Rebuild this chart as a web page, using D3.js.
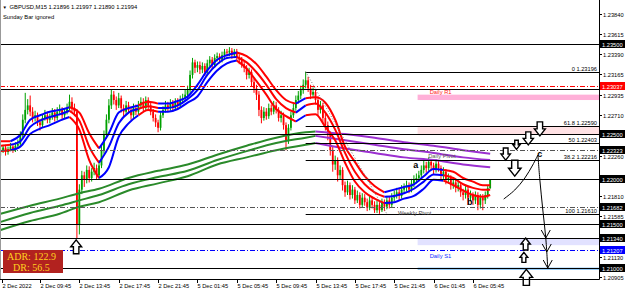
<!DOCTYPE html>
<html><head><meta charset="utf-8">
<script src="https://cdn.jsdelivr.net/npm/d3@7"></script>
<style>body{margin:0;background:#fff;}svg{display:block;font-family:'Liberation Sans',Arial,sans-serif;}</style>
</head><body><svg id="c" width="625" height="292"></svg>
<script>
// ---------------- DATA ----------------
const symbolTitle = "GBPUSD,M15  1.21896 1.21997 1.21890 1.21994";
const subTitle = "Sunday Bar ignored";
const timeLabels = ["2 Dec 2022","2 Dec 09:45","2 Dec 13:45","2 Dec 17:45","2 Dec 21:45","5 Dec 01:45","5 Dec 05:45","5 Dec 09:45","5 Dec 13:45","5 Dec 17:45","5 Dec 21:45","6 Dec 01:45","6 Dec 05:45"];
const timeLabelBars = [0.4,16,32,48,64,80,96,112,128,144,160,176,192];
const priceTicks = [1.23840,1.23615,1.23390,1.23165,1.22935,1.22710,1.22260,1.21810,1.21585,1.21130,1.20905];
const firstOpen = 1.2230;
const closes = [
1.2232,1.2235,1.2230,1.2233,1.2236,1.2232,1.2237,1.2239,1.2249,1.2266,
1.2277,1.2282,1.2275,1.2268,1.2271,1.2263,1.2260,1.2268,1.2271,1.2266,
1.2269,1.2274,1.2268,1.2275,1.2277,1.2271,1.2275,1.2279,1.2286,1.2279,
1.2275,1.2149,1.2188,1.2204,1.2199,1.2210,1.2201,1.2208,1.2212,1.2204,
1.2215,1.2232,1.2249,1.2266,1.2282,1.2294,1.2288,1.2282,1.2290,1.2279,
1.2275,1.2282,1.2277,1.2271,1.2279,1.2275,1.2282,1.2286,1.2279,1.2288,
1.2282,1.2275,1.2268,1.2263,1.2257,1.2271,1.2277,1.2282,1.2279,1.2284,
1.2279,1.2286,1.2282,1.2288,1.2290,1.2294,1.2299,1.2316,1.2330,1.2324,
1.2327,1.2322,1.2326,1.2319,1.2329,1.2333,1.2327,1.2335,1.2337,1.2333,
1.2338,1.2342,1.2341,1.2343,1.2338,1.2342,1.2336,1.2333,1.2328,1.2324,
1.2316,1.2319,1.2308,1.2301,1.2294,1.2277,1.2268,1.2275,1.2270,1.2279,
1.2275,1.2282,1.2277,1.2268,1.2271,1.2260,1.2243,1.2257,1.2271,1.2279,
1.2288,1.2293,1.2299,1.2305,1.2310,1.2301,1.2294,1.2297,1.2288,1.2277,
1.2282,1.2268,1.2260,1.2249,1.2232,1.2216,1.2221,1.2204,1.2210,1.2193,
1.2185,1.2193,1.2182,1.2188,1.2176,1.2182,1.2171,1.2179,1.2174,1.2168,
1.2176,1.2171,1.2165,1.2171,1.2165,1.2173,1.2169,1.2176,1.2171,1.2179,
1.2182,1.2185,1.2181,1.2188,1.2190,1.2193,1.2188,1.2195,1.2199,1.2201,
1.2204,1.2210,1.2215,1.2212,1.2219,1.2215,1.2210,1.2217,1.2212,1.2204,
1.2208,1.2199,1.2201,1.2193,1.2196,1.2190,1.2193,1.2185,1.2182,1.2188,
1.2179,1.2182,1.2176,1.2182,1.2171,1.2179,1.2176,1.2182,1.21896,1.21994];
const highs = [
1.2236,1.2238,1.2238,1.2236,1.2240,1.2239,1.2241,1.2244,1.2253,1.2272,
1.2296,1.2289,1.2293,1.2280,1.2276,1.2274,1.2267,1.2272,1.2277,1.2275,
1.2273,1.2279,1.2278,1.2280,1.2283,1.2280,1.2279,1.2284,1.2294,1.2291,
1.2284,1.2278,1.2194,1.2209,1.2208,1.2215,1.2214,1.2212,1.2218,1.2216,
1.2221,1.2237,1.2254,1.2272,1.2289,1.2300,1.2298,1.2292,1.2296,1.2293,
1.2283,1.2287,1.2286,1.2281,1.2284,1.2283,1.2287,1.2291,1.2290,1.2292,
1.2291,1.2285,1.2278,1.2272,1.2266,1.2275,1.2281,1.2287,1.2286,1.2289,
1.2288,1.2290,1.2290,1.2293,1.2295,1.2300,1.2304,1.2321,1.2335,1.2333,
1.2331,1.2331,1.2330,1.2329,1.2333,1.2337,1.2336,1.2339,1.2341,1.2340,
1.2342,1.2345,1.2345,1.2347,1.2346,1.2345,1.2345,1.2339,1.2336,1.2332,
1.2327,1.2324,1.2322,1.2312,1.2305,1.2298,1.2281,1.2280,1.2279,1.2284,
1.2283,1.2287,1.2286,1.2280,1.2276,1.2274,1.2263,1.2261,1.2275,1.2284,
1.2293,1.2298,1.2304,1.2311,1.23196,1.2314,1.2305,1.2302,1.2300,1.2292,
1.2287,1.2285,1.2273,1.2264,1.2253,1.2236,1.2226,1.2224,1.2215,1.2213,
1.2197,1.2198,1.2196,1.2193,1.2191,1.2187,1.2185,1.2184,1.2183,1.2178,
1.2181,1.2180,1.2175,1.2176,1.2174,1.2178,1.2177,1.2181,1.2180,1.2184,
1.2187,1.2190,1.2189,1.2193,1.2195,1.2198,1.2196,1.2200,1.2204,1.2206,
1.2209,1.2215,1.2220,1.2219,1.2224,1.2222,1.2218,1.2222,1.2220,1.2215,
1.2213,1.2211,1.2206,1.2204,1.2201,1.2199,1.2198,1.2196,1.2189,1.2192,
1.2191,1.2187,1.2185,1.2186,1.2185,1.2183,1.2183,1.2186,1.2192,1.21997];
const lows = [
1.2226,1.2229,1.2226,1.2227,1.2231,1.2229,1.2230,1.2234,1.2236,1.2246,
1.2262,1.2272,1.2270,1.2263,1.2264,1.2259,1.2254,1.2257,1.2265,1.2262,
1.2262,1.2266,1.2264,1.2265,1.2271,1.2267,1.2268,1.2272,1.2276,1.2275,
1.2270,1.2134,1.2138,1.2183,1.2191,1.2195,1.2196,1.2197,1.2204,1.2199,
1.2200,1.2212,1.2228,1.2245,1.2262,1.2278,1.2283,1.2277,1.2279,1.2274,
1.2270,1.2272,1.2273,1.2266,1.2268,1.2271,1.2272,1.2278,1.2275,1.2276,
1.2278,1.2271,1.2264,1.2258,1.2252,1.2254,1.2268,1.2274,1.2275,1.2276,
1.2275,1.2276,1.2278,1.2279,1.2284,1.2287,1.2290,1.2296,1.2312,1.2318,
1.2319,1.2317,1.2318,1.2315,1.2316,1.2325,1.2323,1.2324,1.2331,1.2329,
1.2330,1.2335,1.2337,1.2337,1.2334,1.2335,1.2332,1.2328,1.2324,1.2319,
1.2311,1.2312,1.2303,1.2296,1.2288,1.2270,1.2262,1.2265,1.2266,1.2267,
1.2271,1.2272,1.2273,1.2264,1.2263,1.2255,1.2232,1.2239,1.2254,1.2268,
1.2276,1.2284,1.2289,1.2295,1.2301,1.2297,1.2289,1.2290,1.2283,1.2271,
1.2273,1.2262,1.2254,1.2243,1.2226,1.2208,1.2210,1.2197,1.2199,1.2187,
1.2180,1.2182,1.2177,1.2178,1.2172,1.2173,1.2167,1.2168,1.2170,1.2164,
1.2165,1.2167,1.2162,1.2162,1.2161,1.2163,1.2164,1.2166,1.2167,1.2168,
1.2175,1.2178,1.2176,1.2178,1.2184,1.2186,1.2184,1.2185,1.2191,1.2195,
1.2197,1.2200,1.2206,1.2207,1.2209,1.2210,1.2205,1.2207,1.2208,1.2199,
1.2200,1.2194,1.2195,1.2188,1.2189,1.2185,1.2186,1.2180,1.2176,1.2178,
1.2171,1.2175,1.2171,1.2172,1.2165,1.2167,1.2165,1.2172,1.2178,1.21890];

// fast MA ribbon (sampled)
const fastBars = [0,4,8,12,16,20,24,28,32,36,40,44,48,52,56,60,64,68,72,76,80,84,88,92,96,100,104,108,112,116,120,124,128,132,136,140,144,148,152,156,160,164,168,172,176,180,184,188,192,196,199];
const fastTop = [1.2242,1.2242,1.2249,1.2266,1.2271,1.2275,1.2277,1.2280,1.2274,1.2251,1.2234,1.2251,1.2274,1.2279,1.2282,1.2286,1.2284,1.2284,1.2287,1.2292,1.2305,1.2321,1.2333,1.2338,1.2341,1.2337,1.2328,1.2314,1.2299,1.2288,1.2284,1.2290,1.2291,1.2285,1.2266,1.2236,1.2219,1.2203,1.2192,1.2185,1.2188,1.2191,1.2194,1.2203,1.2211,1.2210,1.2208,1.2201,1.2197,1.2193,1.2193];
const fastMid = [1.2237,1.2238,1.2242,1.2258,1.2265,1.2269,1.2272,1.2276,1.2265,1.2236,1.2218,1.2236,1.2262,1.2274,1.2278,1.2281,1.2279,1.2279,1.2282,1.2289,1.2299,1.2316,1.2328,1.2335,1.2336,1.2330,1.2319,1.2305,1.2289,1.2279,1.2274,1.2282,1.2284,1.2274,1.2255,1.2229,1.2208,1.2194,1.2185,1.2180,1.2181,1.2184,1.2189,1.2197,1.2205,1.2204,1.2201,1.2194,1.2190,1.2188,1.2188];
const fastBot = [1.2231,1.2232,1.2236,1.2250,1.2256,1.2260,1.2265,1.2269,1.2255,1.2221,1.2201,1.2213,1.2247,1.2262,1.2271,1.2277,1.2275,1.2275,1.2278,1.2285,1.2292,1.2308,1.2321,1.2329,1.2332,1.2323,1.2309,1.2294,1.2278,1.2270,1.2264,1.2271,1.2272,1.2258,1.2243,1.2218,1.2197,1.2185,1.2178,1.2173,1.2174,1.2178,1.2181,1.2189,1.2199,1.2198,1.2193,1.2187,1.2182,1.2180,1.2182];
const fastTrend = ["down","down","up","up","up","up","up","up","down","down","down","up","up","up","up","down","down","up","up","up","up","up","up","up","up","down","down","down","down","down","down","up","down","down","down","down","down","down","down","down","up","up","up","up","up","up","down","down","down","down","down"];

// slow MA ribbon (sampled)
const slowBars = [0,12,24,32,40,52,64,76,88,100,112,124,128,140,152,164,176,188,199];
const slowTop = [1.2161,1.2170,1.2178,1.2184,1.2189,1.2201,1.2209,1.2216,1.2227,1.2237,1.2246,1.2252,1.2253,1.2250,1.2246,1.2241,1.2237,1.2232,1.2228];
const slowMid = [1.2152,1.2162,1.2170,1.2176,1.2182,1.2194,1.2202,1.2209,1.2221,1.2231,1.2240,1.2246,1.2248,1.2243,1.2238,1.2233,1.2229,1.2224,1.2221];
const slowBot = [1.2143,1.2153,1.2161,1.2169,1.2174,1.2187,1.2195,1.2203,1.2216,1.2224,1.2232,1.2238,1.2240,1.2234,1.2229,1.2224,1.2221,1.2216,1.2213];
const slowTrend = ["up","up","up","up","up","up","up","up","up","up","up","up","up","down","down","down","down","down","down"];

// horizontal levels
const roundLevels = [1.23500,1.23000,1.22500,1.22000,1.21500,1.21340,1.21000];
const pivotLevels = [1.22323,1.21682];
const pivotNames = ["Daily Pivot","Weekly Pivot"];
const r1Level = 1.23037, s1Level = 1.21207;
const fibStartBar = 124, fibEndBar = 157;
const fibPrices = [1.23196,1.22590,1.22403,1.22216,1.21610];
const fibTexts = ["0 1.23196","61.8 1.22590","50 1.22403","38.2 1.22216","100 1.21610"];
const boxedBlack = [1.23500,1.22500,1.22323,1.22000,1.21682,1.21500,1.21340,1.21000];
const boxedRed = [1.23037];
const boxedBlue = [1.21207];
const zoneStartBar = 169.5;
const zoneR1 = [1.2294,1.2288];
const zoneFib = [1.2259,1.2250];
const zoneS = [1.2134,1.2126];
const zoneLow = [1.21010,1.20985];

// annotations
const arrowBars = [219.2,214.5,209.7,205.3,209.0,213.4,212.7,213.7,30.7];
const arrowTips = [1.2248,1.2238,1.2233,1.2221,1.2203,1.2134,1.2118,1.2099,1.2132];
const arrowDirs = ["down","down","down","down","down","up","up","up","up"];
const waveUp = [[204.5,1.21775],[209.0,1.21876],[213.1,1.2201],[216.3,1.22155],[218.4,1.22266]];
const waveDown = [[218.4,1.22266],[219.2,1.21987],[220.4,1.21653],[221.6,1.2134],[222.4,1.21005]];
const waveHeads = [[221.6,1.2134],[222.0,1.21184],[222.4,1.21005]];
const waveLabels = ["a","b","c"];
const waveLabelBars = [168.7,190.7,219.2];
const waveLabelPrices = [1.22121,1.21708,1.22244];
const adrTexts = ["ADR: 122.9","DR: 56.5"];

// ---------------- DRAW ----------------
const svg = d3.select('#c');
const PR = 599, PB = 279;
const X = d3.scaleLinear().domain([0,199]).range([0.64, 0.64+199*2.46]);
const Y = d3.scaleLinear().domain([1.20905,1.23840]).range([277,14]);
const yc = p => Math.round(Y(p))+0.5;

svg.append('rect').attr('width',625).attr('height',292).attr('fill','#fff');
svg.append('defs').append('clipPath').attr('id','plot').append('rect').attr('x',0).attr('y',0).attr('width',PR).attr('height',PB);
const g = svg.append('g').attr('clip-path','url(#plot)');

// zones
const zx = X(zoneStartBar);
[[zoneR1,'#ffb0d8'],[zoneFib,'#ffe1e4'],[zoneS,'#e2e2ff']].forEach(([z,c])=>{
  g.append('rect').attr('x',zx).attr('width',PR-zx).attr('y',Y(z[0])).attr('height',Y(z[1])-Y(z[0])).attr('fill',c);
});
g.append('rect').attr('x',zx).attr('width',PR-zx).attr('y',Y(zoneLow[0])).attr('height',Y(zoneLow[1])-Y(zoneLow[0])).attr('fill','#7ec0f5');

// ADR panel
svg.append('rect').attr('x',3).attr('y',250).attr('width',60).attr('height',23).attr('fill','#b2221f');
svg.selectAll('.adr').data(adrTexts).enter().append('text')
  .attr('x',(d,i)=>i?13:7).attr('y',(d,i)=>i?270.5:260)
  .attr('font-family',"'Liberation Serif',serif").attr('font-size',10).attr('fill','#ffd21e').text(d=>d);

// candles
const cg = g.append('g');
closes.forEach((c,i)=>{
  const o = i? closes[i-1] : firstOpen;
  const col = c>=o ? '#00a000' : '#ff0000';
  const xx = X(i);
  cg.append('line').attr('x1',xx).attr('x2',xx).attr('y1',Y(highs[i])).attr('y2',Y(lows[i])).attr('stroke',col).attr('stroke-width',1);
  const t = Y(Math.max(o,c)), b = Y(Math.min(o,c));
  cg.append('rect').attr('x',xx-0.9).attr('width',1.8).attr('y',t).attr('height',Math.max(1,b-t)).attr('fill',col);
});

// ribbons
function ribbon(bars, series, trend, colors){
  const line = d3.line().x(d=>X(d[0])).y(d=>Y(d[1])).curve(d3.curveMonotoneX);
  series.forEach(vals=>{
    let k = 1;
    while(k<bars.length){
      const t = trend[k]; let s = k-1;
      while(k<bars.length && trend[k]===t) k++;
      const pts = d3.range(s,k).map(j=>[bars[j],vals[j]]);
      g.append('path').attr('d',line(pts)).attr('fill','none').attr('stroke',colors[t]).attr('stroke-width',2).attr('stroke-linejoin','round');
    }
  });
}
ribbon(slowBars,[slowTop,slowMid,slowBot],slowTrend,{up:'#2a8a2a',down:'#9b30d0'});
ribbon(fastBars,[fastTop,fastMid,fastBot],fastTrend,{up:'#0000ff',down:'#ff0000'});

// level lines
roundLevels.forEach(p=>g.append('line').attr('x1',0).attr('x2',PR).attr('y1',yc(p)).attr('y2',yc(p)).attr('stroke','#000').attr('stroke-width',1));
pivotLevels.forEach(p=>g.append('line').attr('x1',0).attr('x2',PR).attr('y1',yc(p)).attr('y2',yc(p)).attr('stroke','#555').attr('stroke-dasharray','5,2,1,2'));
g.append('line').attr('x1',0).attr('x2',PR).attr('y1',yc(r1Level)).attr('y2',yc(r1Level)).attr('stroke','#ff0000').attr('stroke-dasharray','5,2,1,2');
g.append('line').attr('x1',0).attr('x2',PR).attr('y1',yc(s1Level)).attr('y2',yc(s1Level)).attr('stroke','#0000ff').attr('stroke-dasharray','5,2,1,2');
fibPrices.forEach(p=>g.append('line').attr('x1',X(fibStartBar)).attr('x2',PR).attr('y1',yc(p)).attr('y2',yc(p)).attr('stroke','#000'));
g.append('line').attr('x1',X(fibStartBar)).attr('y1',Y(fibPrices[0])).attr('x2',X(fibEndBar)).attr('y2',Y(fibPrices[4])).attr('stroke','#777').attr('stroke-dasharray','1,2');
fibTexts.forEach((t,i)=>g.append('text').attr('x',597).attr('y',yc(fibPrices[i])-1.5).attr('text-anchor','end').attr('font-size',5.7).attr('fill','#000').text(t));

// level names
const nameAttrs = [[ "Daily R1", r1Level, 174.4, '#ff2020'],[pivotNames[0],pivotLevels[0],173.8,'#555'],[pivotNames[1],pivotLevels[1],161.5,'#444'],["Daily S1",s1Level,174.4,'#1030ff']];
nameAttrs.forEach(([t,p,b,c])=>g.append('text').attr('x',X(b)).attr('y',yc(p)+7).attr('font-size',5.8).attr('fill',c).text(t));

// wave drawing
const wl = d3.line().x(d=>X(d[0])).y(d=>Y(d[1])).curve(d3.curveCatmullRom);
[waveUp,waveDown].forEach(w=>svg.append('path').attr('d',wl(w)).attr('fill','none').attr('stroke','#000').attr('stroke-width',1));
waveHeads.forEach(([b,p])=>{const x=X(b),y=Y(p);
  svg.append('path').attr('d',`M${x-4.5},${y-8}L${x},${y}L${x+4.5},${y-8}`).attr('fill','none').attr('stroke','#000').attr('stroke-width',1);});
waveLabels.forEach((t,i)=>svg.append('text').attr('x',X(waveLabelBars[i])).attr('y',Y(waveLabelPrices[i])).attr('text-anchor','middle').attr('font-size',9).attr('font-weight','bold').attr('fill','#000').text(t));

// arrows
const arrowH = [14,13,9,12,16,12,10,16,14];
arrowDirs.forEach((d,i)=>{
  const h = arrowH[i], w = h*0.78, x = X(arrowBars[i]), tip = Y(arrowTips[i]);
  const s = d==='down'?-1:1; // direction from tip to tail
  const tail = tip + s*h, neck = tip + s*h*0.5;
  const path = `M${x},${tip}L${x+w/2},${neck}L${x+w/4},${neck}L${x+w/4},${tail}L${x-w/4},${tail}L${x-w/4},${neck}L${x-w/2},${neck}Z`;
  svg.append('path').attr('d',path).attr('fill','#fff').attr('stroke','#000').attr('stroke-width',1.4).attr('stroke-linejoin','miter');
});

// axes
svg.append('line').attr('x1',PR+0.5).attr('x2',PR+0.5).attr('y1',0).attr('y2',PB+0.5).attr('stroke','#000');
svg.append('line').attr('x1',0).attr('x2',PR+0.5).attr('y1',PB+0.5).attr('y2',PB+0.5).attr('stroke','#000');
svg.append('line').attr('x1',0.5).attr('x2',0.5).attr('y1',0).attr('y2',PB).attr('stroke','#999');

priceTicks.forEach(p=>{
  svg.append('line').attr('x1',PR).attr('x2',PR+3).attr('y1',yc(p)).attr('y2',yc(p)).attr('stroke','#000');
  svg.append('text').attr('x',603).attr('y',yc(p)+2).attr('font-size',5.7).attr('fill','#000').text(p.toFixed(5));
});
[[boxedBlack,'#000'],[boxedRed,'#ff0000'],[boxedBlue,'#0000ff']].forEach(([arr,c])=>arr.forEach(p=>{
  svg.append('rect').attr('x',PR+1).attr('y',yc(p)-4.5).attr('width',25).attr('height',8).attr('fill',c);
  svg.append('text').attr('x',602).attr('y',yc(p)+2).attr('font-size',5.7).attr('fill','#fff').text(p.toFixed(5));
}));

timeLabels.forEach((t,i)=>{
  const x = Math.round(X(timeLabelBars[i]))+0.5;
  svg.append('line').attr('x1',x).attr('x2',x).attr('y1',PB).attr('y2',PB+4).attr('stroke','#000');
  svg.append('text').attr('x',x).attr('y',287.5).attr('font-size',5.7).attr('fill','#000').text(t);
});

// header
svg.append('text').attr('x',2.5).attr('y',9).attr('font-size',4.5).attr('fill','#000').text('▼');
svg.append('text').attr('x',9.5).attr('y',9).attr('font-size',5.8).attr('fill','#000').text(symbolTitle);
svg.append('text').attr('x',3).attr('y',19).attr('font-size',5.8).attr('fill','#000').text(subTitle);
</script></body></html>
